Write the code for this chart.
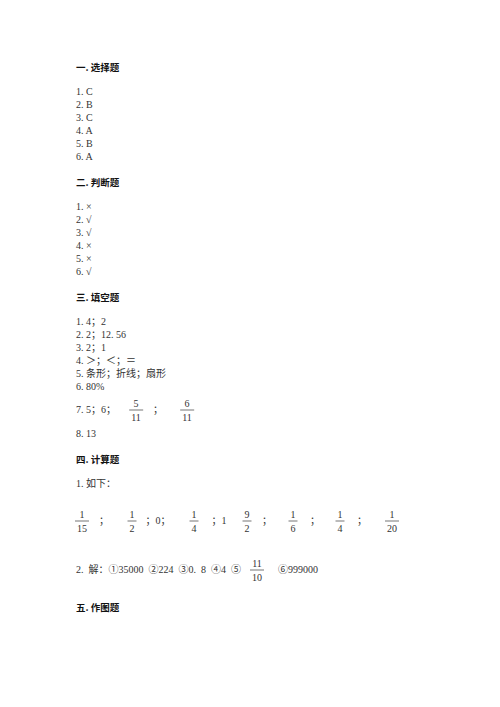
<!DOCTYPE html>
<html>
<head>
<meta charset="utf-8">
<script src="https://cdn.jsdelivr.net/npm/chart.js@4.4.0/dist/chart.umd.min.js"></script>
<style>
body{margin:0;background:#fff;width:500px;height:707px;position:relative;overflow:hidden;
  font-family:'Liberation Serif','Noto Sans CJK SC',serif;color:#333}
.t{position:absolute;font-size:10px;line-height:12px;white-space:pre}
.h{font-family:'Noto Sans CJK SC',sans-serif;font-weight:bold;font-size:9.5px;color:#111}
.c{transform:translateX(-50%)}
.w{word-spacing:2.5px}
.f{position:absolute;text-align:center;font-size:10px;line-height:12px;transform:translate(-50%,-50%);color:#333}
.f span{display:block;padding:1px 2px 0 2px}
.f span+span{border-top:0.7px solid #777}
</style>
</head>
<body>
<script>
// answer key content
const sectionTitles = ['一. 选择题', '二. 判断题', '三. 填空题', '四. 计算题', '五. 作图题'];
const choiceAnswers = ['C', 'B', 'C', 'A', 'B', 'A'];
const judgeAnswers = ['×', '√', '√', '×', '×', '√'];
const blankAnswers = ['4；2', '2；12. 56', '2；1', '＞；＜；＝', '条形；折线；扇形', '80%'];
const blank7Text = '5；6；';
const blank7Fracs = [['5', '11'], ['6', '11']];
const blank8Text = '13';
const calc1Text = '如下：';
const calc1Row = [['1', '15'], '；', ['1', '2'], '；0；', ['1', '4'], '；1', ['9', '2'], '；', ['1', '6'], '；', ['1', '4'], '；', ['1', '20']];
const calc2Text = '解：①35000 ②224 ③0. 8 ④4 ⑤';
const calc2Frac = ['11', '10'];
const calc2Tail = '⑥999000';

const left = 76;

function text(str, x, cy, cls, center) {
    const d = document.createElement('div');
    d.className = 't' + (cls ? ' ' + cls : '') + (center ? ' c' : '');
    d.textContent = str;
    d.style.left = x + 'px';
    d.style.top = (cy - 6) + 'px';
    document.body.appendChild(d);
    return d;
}

function frac(pair, cx, cy) {
    const d = document.createElement('div');
    d.className = 'f';
    d.style.left = cx + 'px';
    d.style.top = cy + 'px';
    const n = document.createElement('span');
    n.textContent = pair[0];
    const m = document.createElement('span');
    m.textContent = pair[1];
    d.appendChild(n);
    d.appendChild(m);
    document.body.appendChild(d);
}

function list(items, startY) {
    items.forEach((a, i) => text((i + 1) + '. ' + a, left, startY + i * 13));
}

// section 1
text(sectionTitles[0], left, 67, 'h');
list(choiceAnswers, 92);

// section 2
text(sectionTitles[1], left, 182, 'h');
list(judgeAnswers, 207);

// section 3
text(sectionTitles[2], left, 297, 'h');
list(blankAnswers, 322);
text('7. ' + blank7Text, left, 410);
frac(blank7Fracs[0], 136, 410);
text('；', 158, 410, '', true);
frac(blank7Fracs[1], 187, 410);
text('8. ' + blank8Text, left, 434);

// section 4
text(sectionTitles[3], left, 459, 'h');
text('1. ' + calc1Text, left, 484);
const rowX = [82, 104, 132, 158, 194, 219, 247, 267, 293, 315, 340, 362, 392];
calc1Row.forEach((item, i) => {
    if (Array.isArray(item)) frac(item, rowX[i], 521);
    else text(item, rowX[i], 521, '', true);
});
text('2. ' + calc2Text, left, 570, 'w');
frac(calc2Frac, 257, 570);
text(calc2Tail, 278, 570);

// section 5
text(sectionTitles[4], left, 607, 'h');
</script>
</body>
</html>
